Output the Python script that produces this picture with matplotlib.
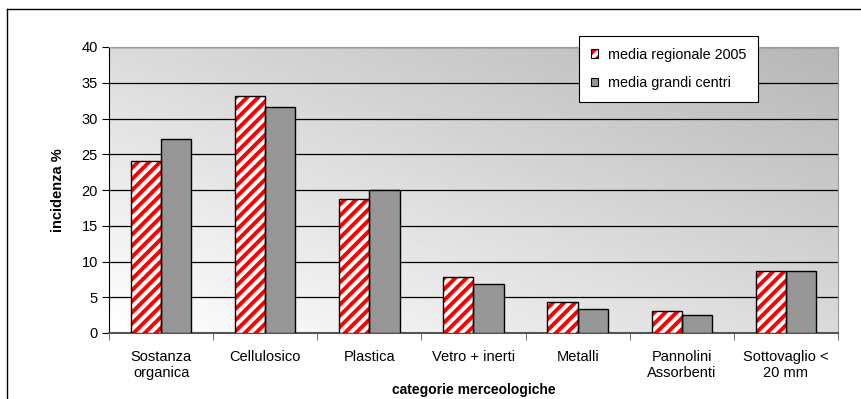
import numpy as np
import matplotlib
matplotlib.use("Agg")
import matplotlib.pyplot as plt
from matplotlib.lines import Line2D
from matplotlib.patches import Patch

plt.rcParams['font.family'] = ['Liberation Sans', 'DejaVu Sans']
plt.rcParams['hatch.linewidth'] = 2.8

categories = ["Sostanza\norganica", "Cellulosico", "Plastica", "Vetro + inerti",
              "Metalli", "Pannolini\nAssorbenti", "Sottovaglio <\n20 mm"]
regionale_2005 = [24.0, 33.2, 18.8, 7.8, 4.3, 3.1, 8.7]
grandi_centri = [27.1, 31.6, 20.0, 6.9, 3.4, 2.5, 8.7]
yticks = [0, 5, 10, 15, 20, 25, 30, 35, 40]

W, H = 862, 399
fig = plt.figure(figsize=(W / 100, H / 100), dpi=100)
ax = fig.add_axes([109 / W, (H - 333) / H, (838 - 109) / W, (333 - 47) / H])

# diagonal gradient background: white bottom-left -> grey top-right
gx, gy = np.meshgrid(np.linspace(0, 1, 200), np.linspace(0, 1, 200))
t = 0.5 * gx + 0.5 * gy
grad = 1.0 - t * (1.0 - 182 / 255)
ax.imshow(grad, cmap='gray', vmin=0, vmax=1, origin='lower', aspect='auto',
          extent=[0, 1, 0, 1], transform=ax.transAxes, zorder=0)

x = np.arange(len(categories))
bw = 0.29
# red hatch layer, then black outline on top
ax.bar(x - bw / 2, regionale_2005, bw, color='white', edgecolor='red',
       hatch='///', linewidth=0, zorder=3)
ax.bar(x - bw / 2, regionale_2005, bw, fill=False, edgecolor='black',
       linewidth=1, zorder=4)
ax.bar(x + bw / 2, grandi_centri, bw, color='#969696', edgecolor='black',
       linewidth=1, zorder=3)

ax.set_xlim(-0.5, len(categories) - 0.5)
ax.set_ylim(0, 40)
ax.set_yticks(yticks)
ax.yaxis.grid(True, color='black', linewidth=0.9, zorder=1)
ax.set_axisbelow(True)

ax.set_xticks(x)
ax.set_xticklabels(categories, fontsize=10.5)
ax.tick_params(axis='x', length=0, pad=12)
ax.set_xticks(np.arange(-0.5, len(categories)), minor=True)
ax.tick_params(axis='x', which='minor', length=5, color='#555555')
ax.tick_params(axis='y', labelsize=10.5, length=5, pad=3)

for s in ['top', 'right']:
    ax.spines[s].set_color('#999999')
ax.spines['left'].set_color('black')
ax.spines['bottom'].set_color('#555555')
ax.spines['bottom'].set_linewidth(1.5)

ax.set_ylabel('incidenza %', fontsize=10.5, fontweight='bold', labelpad=12)
ax.set_xlabel('categorie merceologiche', fontsize=10, fontweight='bold', labelpad=2)

red_handle = (Patch(facecolor='white', edgecolor='red', hatch='///', linewidth=0),
              Patch(fill=False, edgecolor='black', linewidth=0.8))
grey_handle = Patch(facecolor='#969696', edgecolor='black', linewidth=0.8)
leg = ax.legend([red_handle, grey_handle], ['media regionale 2005', 'media grandi centri'],
                loc='upper left', bbox_to_anchor=((579 - 109) / (838 - 109), (333 - 36) / (333 - 47)),
                borderaxespad=0, fontsize=10.4, frameon=True, fancybox=False,
                framealpha=1, edgecolor='black', handlelength=0.55, handleheight=0.55,
                handletextpad=0.65, labelspacing=1.0, borderpad=0.8)
leg.get_frame().set_linewidth(0.8)
leg.set_zorder(5)

# outer chart border (cut off at right and bottom)
fig.add_artist(Line2D([7 / W, 7 / W], [0, 1 - 9 / H], color='black', linewidth=1))
fig.add_artist(Line2D([7 / W, 1], [1 - 9 / H, 1 - 9 / H], color='black', linewidth=1))

fig.savefig('out.png', dpi=100)
